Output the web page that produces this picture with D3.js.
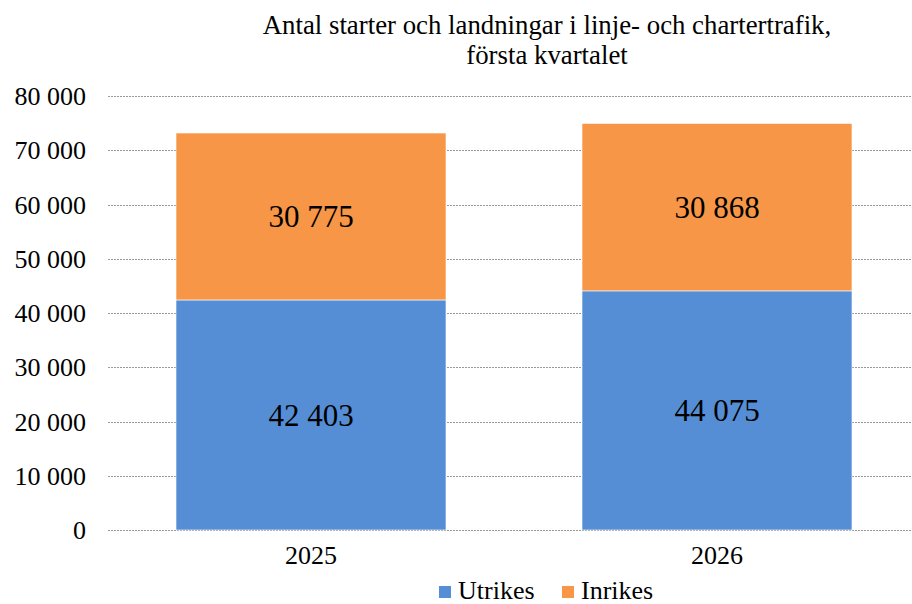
<!DOCTYPE html>
<html>
<head>
<meta charset="utf-8">
<script src="https://cdn.jsdelivr.net/npm/d3@7"></script>
<style>
  body { margin: 0; background: #fff; }
  svg text { font-family: "Liberation Serif", "Times New Roman", serif !important; fill: #000; }
</style>
</head>
<body>
<div id="chart"></div>
<script>
// Starter och landningar, första kvartalet
var years = ["2025", "2026"];
var utrikes = [42403, 44075];
var inrikes = [30775, 30868];
var seriesNames = ["Utrikes", "Inrikes"];
var seriesColors = ["#558ED5", "#F79646"];
var yTicks = [0, 10000, 20000, 30000, 40000, 50000, 60000, 70000, 80000];
var titleLines = ["Antal starter och landningar i linje- och chartertrafik,", "första kvartalet"];

(function() {
  var W = 912, H = 604;
  var margin = { top: 96, left: 108, right: -8, bottom: 74 },
    width = W - margin.left - margin.right,
    height = H - margin.top - margin.bottom;

  var svg = d3.select("#chart")
    .append("svg")
    .attr("width", W)
    .attr("height", H);

  var g = svg.append("g")
    .attr("transform", "translate(" + margin.left + "," + margin.top + ")");

  var x = d3.scaleBand().domain(years).range([0, width]).paddingInner(0.335).paddingOuter(0.1675);
  var y = d3.scaleLinear().domain([0, 80000]).range([height, 0]);

  var fmt = function(v) { return d3.format(",")(v).replace(/,/g, " "); };

  // title
  svg.selectAll(".title")
    .data(titleLines)
    .enter().append("text")
    .attr("class", "title")
    .attr("x", 547)
    .attr("y", function(d, i) { return 34 + i * 30; })
    .attr("text-anchor", "middle")
    .style("font-size", "26.8px")
    .text(function(d) { return d; });

  // grid
  g.selectAll(".grid")
    .data(yTicks)
    .enter().append("line")
    .attr("class", "grid")
    .attr("x1", 0)
    .attr("x2", width)
    .attr("y1", function(d) { return Math.round(y(d)) + 0.5; })
    .attr("y2", function(d) { return Math.round(y(d)) + 0.5; })
    .attr("stroke", "#999")
    .attr("stroke-width", 1)
    .attr("stroke-dasharray", "2,1");

  // y axis labels
  var yAxis = d3.axisLeft(y).tickValues(yTicks).tickFormat(fmt).tickSize(0).tickPadding(22);
  var ya = g.append("g").attr("class", "axis y-axis").call(yAxis);
  ya.select(".domain").remove();
  ya.selectAll("text").style("font-size", "26px").attr("dy", "0.33em");

  // x axis labels
  var xAxis = d3.axisBottom(x).tickSize(0).tickPadding(16);
  var xa = g.append("g").attr("class", "axis x-axis")
    .attr("transform", "translate(0," + height + ")")
    .call(xAxis);
  xa.select(".domain").remove();
  xa.selectAll("text").style("font-size", "26px");

  // stacked bars
  var rows = years.map(function(yr, i) { return { year: yr, Utrikes: utrikes[i], Inrikes: inrikes[i] }; });
  var stacked = d3.stack().keys(seriesNames)(rows);

  var layers = g.selectAll(".layer")
    .data(stacked)
    .enter().append("g")
    .attr("class", "layer")
    .attr("fill", function(d, i) { return seriesColors[i]; });

  layers.selectAll("rect")
    .data(function(d) { return d; })
    .enter().append("rect")
    .attr("x", function(d) { return x(d.data.year); })
    .attr("width", x.bandwidth())
    .attr("y", function(d) { return y(d[1]); })
    .attr("height", function(d) { return y(d[0]) - y(d[1]); })
    .attr("stroke", "#fff")
    .attr("stroke-width", 0.6);

  layers.selectAll(".val")
    .data(function(d) { return d; })
    .enter().append("text")
    .attr("class", "val")
    .attr("x", function(d) { return x(d.data.year) + x.bandwidth() / 2; })
    .attr("y", function(d) { return (y(d[0]) + y(d[1])) / 2; })
    .attr("dy", "0.35em")
    .attr("text-anchor", "middle")
    .style("font-size", "31px")
    .text(function(d) { return fmt(d[1] - d[0]); });

  // legend
  var legendX = [439, 562];
  var leg = svg.selectAll(".legend")
    .data(seriesNames)
    .enter().append("g")
    .attr("class", "legend")
    .attr("transform", function(d, i) { return "translate(" + legendX[i] + ",586)"; });

  leg.append("rect")
    .attr("width", 12)
    .attr("height", 12)
    .attr("fill", function(d, i) { return seriesColors[i]; });

  leg.append("text")
    .attr("x", 19)
    .attr("y", 13)
    .style("font-size", "26px")
    .text(function(d) { return d; });
})();
</script>
</body>
</html>
